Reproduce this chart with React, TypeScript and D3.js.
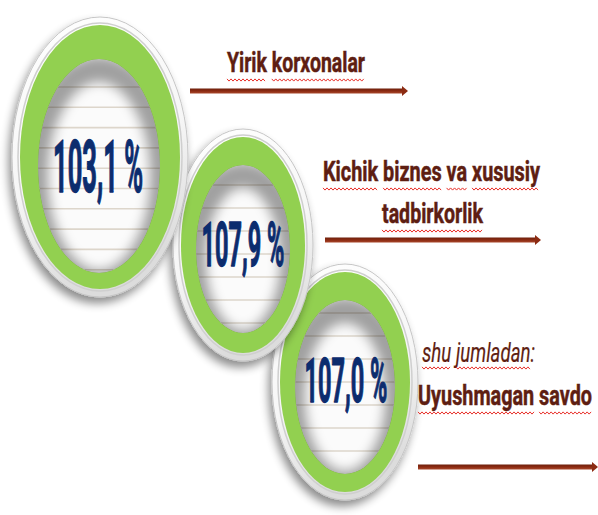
import React, { useEffect, useRef } from "react";
import * as d3 from "d3";

// ---------- data ----------
const values = [103.1, 107.9, 107.0];
const categoryLines = [
  ["Yirik korxonalar"],
  ["Kichik biznes va xususiy", "tadbirkorlik"],
  ["Uyushmagan savdo"],
];
const subLabels = ["", "", "shu jumladan:"];

// ---------- layout ----------
const W = 598;
const H = 515;

const ringLayout = [
  { cx: 100, cy: 157, rx: 80, ry: 132, icx: 99, icy: 166, irx: 61, iry: 107, tx: 98, ty: 192, tw: 90, fs: 72, line0: 87, gap: 20.3 },
  { cx: 243, cy: 245, rx: 62, ry: 108, icx: 243, icy: 249, irx: 47, iry: 84, tx: 243, ty: 266, tw: 83, fs: 62, line0: 185, gap: 23 },
  { cx: 345, cy: 382, rx: 65, ry: 110, icx: 345, icy: 387, irx: 50, iry: 87, tx: 346, ty: 402, tw: 83, fs: 62, line0: 313, gap: 23 },
];

const labelLayout = [
  { lines: [{ x: 227, y: 72, w: 138 }], sub: null as null | { x: number; y: number; w: number }, arrow: { x1: 190, x2: 408, y: 91 } },
  { lines: [{ x: 323, y: 181, w: 217 }, { x: 382, y: 223, w: 101 }], sub: null, arrow: { x1: 325, x2: 541, y: 240 } },
  { lines: [{ x: 418, y: 405, w: 174 }], sub: { x: 422, y: 362, w: 113 }, arrow: { x1: 418, x2: 598, y: 467 } },
];

const GREEN = "#92d050";
const NAVY = "#0c2c6e";
const BROWN = "#5e1e12";
const ARROW = "#8c2b12";
const SQUIGGLE = "#e8302a";

const fmt = (v: number) => d3.format(".1f")(v).replace(".", ",") + " %";

export default function App() {
  const ref = useRef<SVGSVGElement | null>(null);

  useEffect(() => {
    const svg = d3.select(ref.current);
    svg.selectAll("*").remove();

    const defs = svg.append("defs");

    const shadow = defs.append("filter").attr("id", "ringShadow")
      .attr("x", "-30%").attr("y", "-30%").attr("width", "160%").attr("height", "160%");
    shadow.append("feGaussianBlur").attr("in", "SourceAlpha").attr("stdDeviation", 5).attr("result", "b");
    shadow.append("feOffset").attr("in", "b").attr("dx", -3).attr("dy", 6).attr("result", "o");
    shadow.append("feComponentTransfer").attr("in", "o").attr("result", "o2")
      .append("feFuncA").attr("type", "linear").attr("slope", 0.45);
    const merge = shadow.append("feMerge");
    merge.append("feMergeNode").attr("in", "o2");
    merge.append("feMergeNode").attr("in", "SourceGraphic");

    const blur = defs.append("filter").attr("id", "innerBlur")
      .attr("x", "-30%").attr("y", "-30%").attr("width", "160%").attr("height", "160%");
    blur.append("feGaussianBlur").attr("stdDeviation", 6);

    const rimGrad = defs.append("linearGradient").attr("id", "rimGrad")
      .attr("x1", 0).attr("y1", 0).attr("x2", 0.3).attr("y2", 1);
    rimGrad.append("stop").attr("offset", "0%").attr("stop-color", "#ffffff");
    rimGrad.append("stop").attr("offset", "60%").attr("stop-color", "#f6f6f6");
    rimGrad.append("stop").attr("offset", "100%").attr("stop-color", "#dcdcdc");

    const arrowGrad = defs.append("linearGradient").attr("id", "arrowGrad")
      .attr("x1", 0).attr("y1", 0).attr("x2", 0).attr("y2", 1);
    arrowGrad.append("stop").attr("offset", "0%").attr("stop-color", "#6e200c");
    arrowGrad.append("stop").attr("offset", "50%").attr("stop-color", ARROW);
    arrowGrad.append("stop").attr("offset", "100%").attr("stop-color", "#a9482c");

    // ---------- rings (draw last first so first sits on top) ----------
    const ringData = values.map((v, i) => ({ v, i, L: ringLayout[i] }));
    const order = [...ringData].reverse();

    order.forEach(({ v, i, L }) => {
      const g = svg.append("g").attr("class", `ring-${i}`);

      // rim with drop shadow
      g.append("ellipse")
        .attr("cx", L.cx).attr("cy", L.cy)
        .attr("rx", L.rx + 8).attr("ry", L.ry + 8)
        .attr("fill", "url(#rimGrad)")
        .attr("stroke", "#c6c6c6").attr("stroke-width", 1)
        .attr("filter", "url(#ringShadow)");
      g.append("ellipse")
        .attr("cx", L.cx).attr("cy", L.cy)
        .attr("rx", L.rx + 2).attr("ry", L.ry + 2)
        .attr("fill", "none")
        .attr("stroke", "#cfcfcf").attr("stroke-width", 1.5);

      // green ring
      g.append("ellipse")
        .attr("cx", L.cx).attr("cy", L.cy)
        .attr("rx", L.rx).attr("ry", L.ry)
        .attr("fill", GREEN);

      // inner paper
      const clipId = `inner-${i}`;
      defs.append("clipPath").attr("id", clipId)
        .append("ellipse")
        .attr("cx", L.icx).attr("cy", L.icy)
        .attr("rx", L.irx).attr("ry", L.iry);

      const inner = g.append("g").attr("clip-path", `url(#${clipId})`);
      inner.append("ellipse")
        .attr("cx", L.icx).attr("cy", L.icy)
        .attr("rx", L.irx).attr("ry", L.iry)
        .attr("fill", "#fbfbfb");

      const ys = d3.range(L.line0, L.icy + L.iry, L.gap);
      inner.selectAll("line.rule").data(ys).enter().append("line")
        .attr("class", "rule")
        .attr("x1", L.icx - L.irx).attr("x2", L.icx + L.irx)
        .attr("y1", (d) => d).attr("y2", (d) => d)
        .attr("stroke", "#ddd6cb").attr("stroke-width", 1.6);

      // inset shadow
      inner.append("ellipse")
        .attr("cx", L.icx).attr("cy", L.icy + 10)
        .attr("rx", L.irx + 3).attr("ry", L.iry)
        .attr("fill", "none")
        .attr("stroke", "#000").attr("stroke-opacity", 0.36)
        .attr("stroke-width", 26)
        .attr("filter", "url(#innerBlur)");

      // value
      g.append("text")
        .attr("x", L.tx - L.tw / 2)
        .attr("y", L.ty)
        .attr("textLength", L.tw)
        .attr("lengthAdjust", "spacingAndGlyphs")
        .attr("font-family", "Roboto, 'DejaVu Sans', sans-serif")
        .attr("font-weight", 700)
        .attr("font-size", L.fs)
        .attr("fill", NAVY)
        .attr("stroke", NAVY)
        .attr("stroke-width", 1.4)
        .attr("stroke-linejoin", "round")
        .text(fmt(v));
    });

    // ---------- labels ----------
    const squiggle = d3.line<[number, number]>();

    const addUnderline = (node: SVGTextElement, uy: number) => {
      const txt = node.textContent || "";
      const re = /\S+/g;
      let m: RegExpExecArray | null;
      while ((m = re.exec(txt))) {
        const s = m.index;
        const e = s + m[0].replace(/:$/, "").length - 1;
        const x0 = node.getStartPositionOfChar(s).x;
        const x1 = node.getEndPositionOfChar(e).x;
        const pts: [number, number][] = d3.range(x0, x1 + 0.01, 2).map((x, k) => [x, uy + (k % 2 ? 1.1 : -1.1)]);
        svg.append("path")
          .attr("d", squiggle(pts) || "")
          .attr("fill", "none")
          .attr("stroke", SQUIGGLE)
          .attr("stroke-width", 1);
      }
    };

    const labelText = (p: { x: number; y: number; w: number }, s: string, italic = false) => {
      const t = svg.append("text")
        .attr("x", p.x).attr("y", p.y)
        .attr("textLength", p.w)
        .attr("lengthAdjust", "spacingAndGlyphs")
        .attr("font-family", "Roboto, 'DejaVu Sans', sans-serif")
        .attr("font-size", 28)
        .attr("font-weight", italic ? 400 : 700)
        .attr("font-style", italic ? "italic" : "normal")
        .attr("fill", BROWN)
        .attr("stroke", BROWN)
        .attr("stroke-width", italic ? 0.2 : 0.5)
        .text(s);
      addUnderline(t.node() as SVGTextElement, p.y + (italic ? 6 : 8));
    };

    categoryLines.forEach((lines, i) => {
      const L = labelLayout[i];
      if (L.sub && subLabels[i]) labelText(L.sub, subLabels[i], true);
      lines.forEach((s, j) => labelText(L.lines[j], s));

      const a = L.arrow;
      svg.append("rect")
        .attr("x", a.x1).attr("y", a.y - 2.5)
        .attr("width", a.x2 - a.x1 - 5).attr("height", 5)
        .attr("fill", "url(#arrowGrad)");
      svg.append("path")
        .attr("d", d3.line()([[a.x2 - 6, a.y - 5], [a.x2, a.y], [a.x2 - 6, a.y + 5]]) + "Z")
        .attr("fill", ARROW);
    });
  }, []);

  return (
    <svg
      ref={ref}
      width={W}
      height={H}
      viewBox={`0 0 ${W} ${H}`}
      style={{ position: "absolute", left: 0, top: 0, background: "#ffffff" }}
    />
  );
}
